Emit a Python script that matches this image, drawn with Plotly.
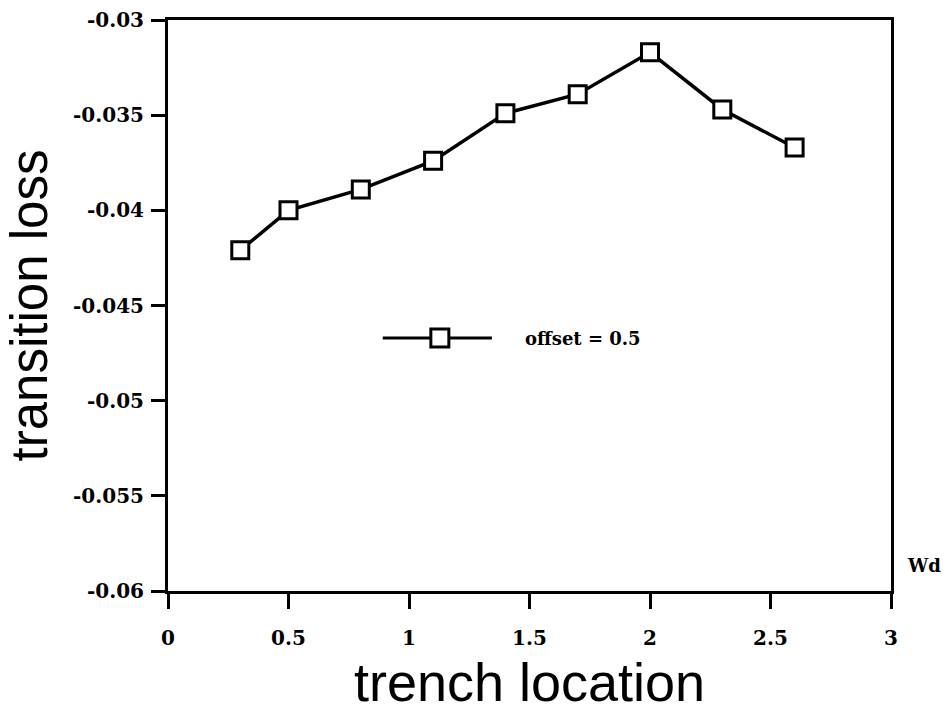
import plotly.graph_objects as go

# trench location (normalised) and the resulting transition loss
trench_location = [0.3, 0.5, 0.8, 1.1, 1.4, 1.7, 2.0, 2.3, 2.6]
transition_loss = [-0.0421, -0.0400, -0.0389, -0.0374, -0.0349,
                   -0.0339, -0.0317, -0.0347, -0.0367]

x_ticks = [0, 0.5, 1, 1.5, 2, 2.5, 3]
x_tick_text = ["0", "0.5", "1", "1.5", "2", "2.5", "3"]
y_ticks = [-0.06, -0.055, -0.05, -0.045, -0.04, -0.035, -0.03]
y_tick_text = ["-0.06", "-0.055", "-0.05", "-0.045", "-0.04", "-0.035", "-0.03"]

series_name = "offset = 0.5"

tick_font = dict(family="DejaVu Serif", size=20, color="black", weight="bold")
x_title_font = dict(family="Liberation Sans, Arial, sans-serif", size=54, color="black")
y_title_font = dict(family="Liberation Sans, Arial, sans-serif", size=51, color="black")

fig = go.Figure()
fig.add_trace(go.Scatter(
    x=trench_location,
    y=transition_loss,
    mode="lines+markers",
    name=series_name,
    line=dict(color="black", width=3.5),
    marker=dict(symbol="square", size=17, color="white",
                line=dict(color="black", width=3)),
    showlegend=False,
))

# legend key drawn inside the plot: a short line with a square marker
key_y = 0.443
fig.add_shape(type="line", xref="paper", yref="paper",
              x0=0.297, x1=0.448, y0=key_y, y1=key_y,
              line=dict(color="black", width=3))
fig.add_shape(type="rect", xref="paper", yref="paper",
              xsizemode="pixel", ysizemode="pixel",
              xanchor=0.376, yanchor=key_y,
              x0=-9, x1=9, y0=-9, y1=9,
              fillcolor="white", line=dict(color="black", width=3))
fig.add_annotation(xref="paper", yref="paper", x=0.491, y=key_y,
                   xanchor="left", yanchor="middle", showarrow=False,
                   text=series_name,
                   font=dict(family="DejaVu Serif", size=18, color="black", weight="bold"))

# unit label at the end of the x axis
fig.add_annotation(xref="paper", yref="paper", x=1.02, y=0.045,
                   xanchor="left", yanchor="middle", showarrow=False,
                   text="Wd",
                   font=dict(family="DejaVu Serif", size=18, color="black", weight="bold"))

fig.update_layout(
    width=946, height=712,
    margin=dict(l=168, r=55, t=20, b=121),
    paper_bgcolor="white",
    plot_bgcolor="white",
    xaxis=dict(
        range=[0, 3], automargin=False,
        tickmode="array", tickvals=x_ticks, ticktext=x_tick_text,
        ticks="outside", ticklen=15, tickwidth=3, tickcolor="black",
        ticklabelstandoff=12,
        showline=True, linecolor="black", linewidth=3, mirror=True,
        showgrid=False, zeroline=False,
        tickfont=tick_font,
        title=dict(text="trench location", font=x_title_font, standoff=22),
    ),
    yaxis=dict(
        range=[-0.06, -0.03], automargin=False,
        tickmode="array", tickvals=y_ticks, ticktext=y_tick_text,
        ticks="outside", ticklen=14, tickwidth=3, tickcolor="black",
        ticklabelstandoff=3,
        showline=True, linecolor="black", linewidth=3, mirror=True,
        showgrid=False, zeroline=False,
        tickfont=tick_font,
        title=dict(text="transition loss", font=y_title_font, standoff=10),
    ),
)

fig.write_html("out.html")
